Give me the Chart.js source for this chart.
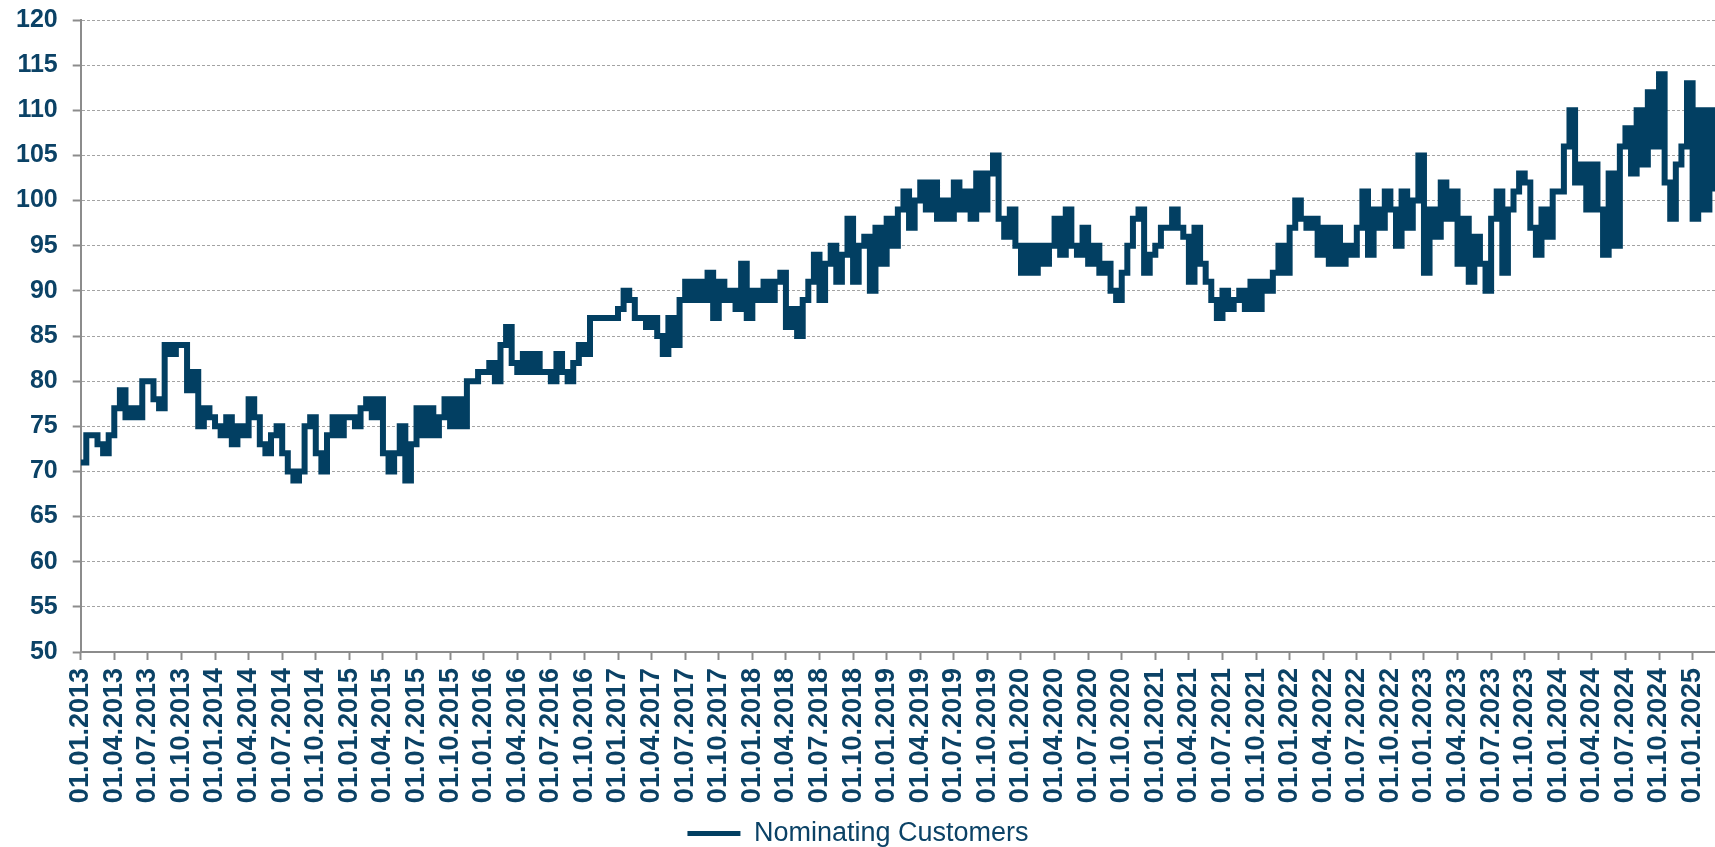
<!DOCTYPE html>
<html>
<head>
<meta charset="utf-8">
<script src="https://cdn.jsdelivr.net/npm/chart.js@4.4.1/dist/chart.umd.min.js"></script>
<style>
  html, body { margin: 0; padding: 0; background: #fff; }
  #wrap { width: 1715px; height: 847px; }
</style>
</head>
<body>
<div id="wrap"><canvas id="customersChart"></canvas></div>
<script>
// Nominating customers at half-month steps
const v2013 = [71,74,74,73,72,74,77,79,76,77,76,80,80,78,77,84,83,84,84,79,81,75,77,76];
const v2014 = [75,74,76,73,75,74,78,76,73,72,74,75,72,70,69,70,75,76,72,70,74,76,74,76];
const v2015 = [76,75,77,78,76,78,72,70,72,75,69,73,77,74,77,74,76,78,75,78,75,80,80,81];
const v2016 = [81,82,80,84,86,82,81,83,81,83,81,81,80,83,81,80,82,84,83,87,87,87,87,87];
const v2017 = [88,90,89,87,87,86,87,85,83,87,84,89,91,89,91,89,92,87,91,89,90,88,93,87];
const v2018 = [90,89,91,89,91,92,86,88,85,89,91,94,89,93,95,91,94,98,91,95,96,90,97,93];
const v2019 = [98,95,99,101,97,100,102,99,102,98,100,98,102,99,101,98,103,99,103,105,98,96,99,95];
const v2020 = [92,95,92,95,93,95,98,94,99,95,94,97,93,95,92,93,90,89,92,95,98,99,92,94];
const v2021 = [95,97,97,99,97,96,91,97,93,91,89,87,90,88,89,90,88,91,88,91,90,92,95,92];
const v2022 = [97,100,98,97,98,94,97,93,97,93,95,94,97,101,94,99,97,101,99,95,101,97,100,105];
const v2023 = [92,99,96,102,98,101,93,98,91,96,93,90,98,101,92,99,101,103,102,97,94,99,96,101];
const v2024 = [101,106,110,102,104,99,104,99,94,103,95,106,108,103,110,104,112,106,114,102,98,104,106,113];
const v2025 = [98,110,99,110,101];

const tickYears = [2013,2014,2015,2016,2017,2018,2019,2020,2021,2022,2023,2024,2025];
const quarterStarts = ["01.01.", "01.04.", "01.07.", "01.10."];
const seriesLabel = "Nominating Customers";

// one tick label per quarter, 01.01.2013 ... 01.01.2025
const tickLabels = [];
tickYears.forEach((y) => {
  quarterStarts.forEach((q) => tickLabels.push(q + y));
});
tickLabels.length = 49;

const values = [].concat(v2013, v2014, v2015, v2016, v2017, v2018, v2019,
  v2020, v2021, v2022, v2023, v2024, v2025);
// x is counted in months since 01.01.2013
const points = values.map((v, i) => ({ x: i * 0.5, y: v }));

const navy = "#023f62";
const labelColor = "#0b4266";
const axisGrey = "#8c8c8c";

const ctx = document.getElementById("customersChart").getContext("2d");
new Chart(ctx, {
  type: "line",
  data: {
    datasets: [
      {
        label: seriesLabel,
        data: points,
        borderColor: navy,
        backgroundColor: navy,
        borderWidth: 6,
        pointRadius: 0,
        stepped: true,
      },
    ],
  },
  options: {
    responsive: true,
    maintainAspectRatio: false,
    animation: false,
    layout: { padding: { top: 20, left: 1, right: 0, bottom: -10 } },
    scales: {
      x: {
        type: "linear",
        min: 0,
        max: 146,
        afterFit: (scale) => {
          // plot runs to the right edge; extra room before the legend
          scale.paddingRight = 0;
          scale.paddingLeft = 0;
          scale.height = 168;
        },
        border: { color: axisGrey, width: 2 },
        grid: {
          drawOnChartArea: false,
          drawTicks: true,
          tickLength: 8,
          tickColor: axisGrey,
          tickWidth: 2,
        },
        ticks: {
          stepSize: 3,
          includeBounds: false,
          autoSkip: false,
          minRotation: 90,
          maxRotation: 90,
          padding: 8,
          color: labelColor,
          font: { family: "Liberation Sans", size: 27, weight: "bold" },
          callback: (val) => tickLabels[Math.round(val / 3)],
        },
      },
      y: {
        min: 50,
        max: 120,
        afterFit: (scale) => {
          scale.paddingTop = 0;
          scale.paddingBottom = 0;
        },
        border: { color: axisGrey, width: 2, dash: [3, 2] },
        grid: {
          color: "#a3a3a3",
          lineWidth: 1,
          tickLength: 8,
          tickColor: axisGrey,
          tickWidth: 2,
          tickBorderDash: [],
        },
        ticks: {
          stepSize: 5,
          padding: 15,
          color: labelColor,
          font: { family: "Liberation Sans", size: 25, weight: "bold" },
        },
      },
    },
    plugins: {
      legend: {
        position: "bottom",
        labels: {
          boxWidth: 53,
          boxHeight: 5,
          padding: 0,
          color: labelColor,
          font: { family: "Liberation Sans", size: 27 },
          generateLabels: (chart) =>
            Chart.defaults.plugins.legend.labels
              .generateLabels(chart)
              .map((item) => ({ ...item, lineWidth: 0 })),
        },
      },
      tooltip: { enabled: false },
    },
  },
});
</script>
</body>
</html>
